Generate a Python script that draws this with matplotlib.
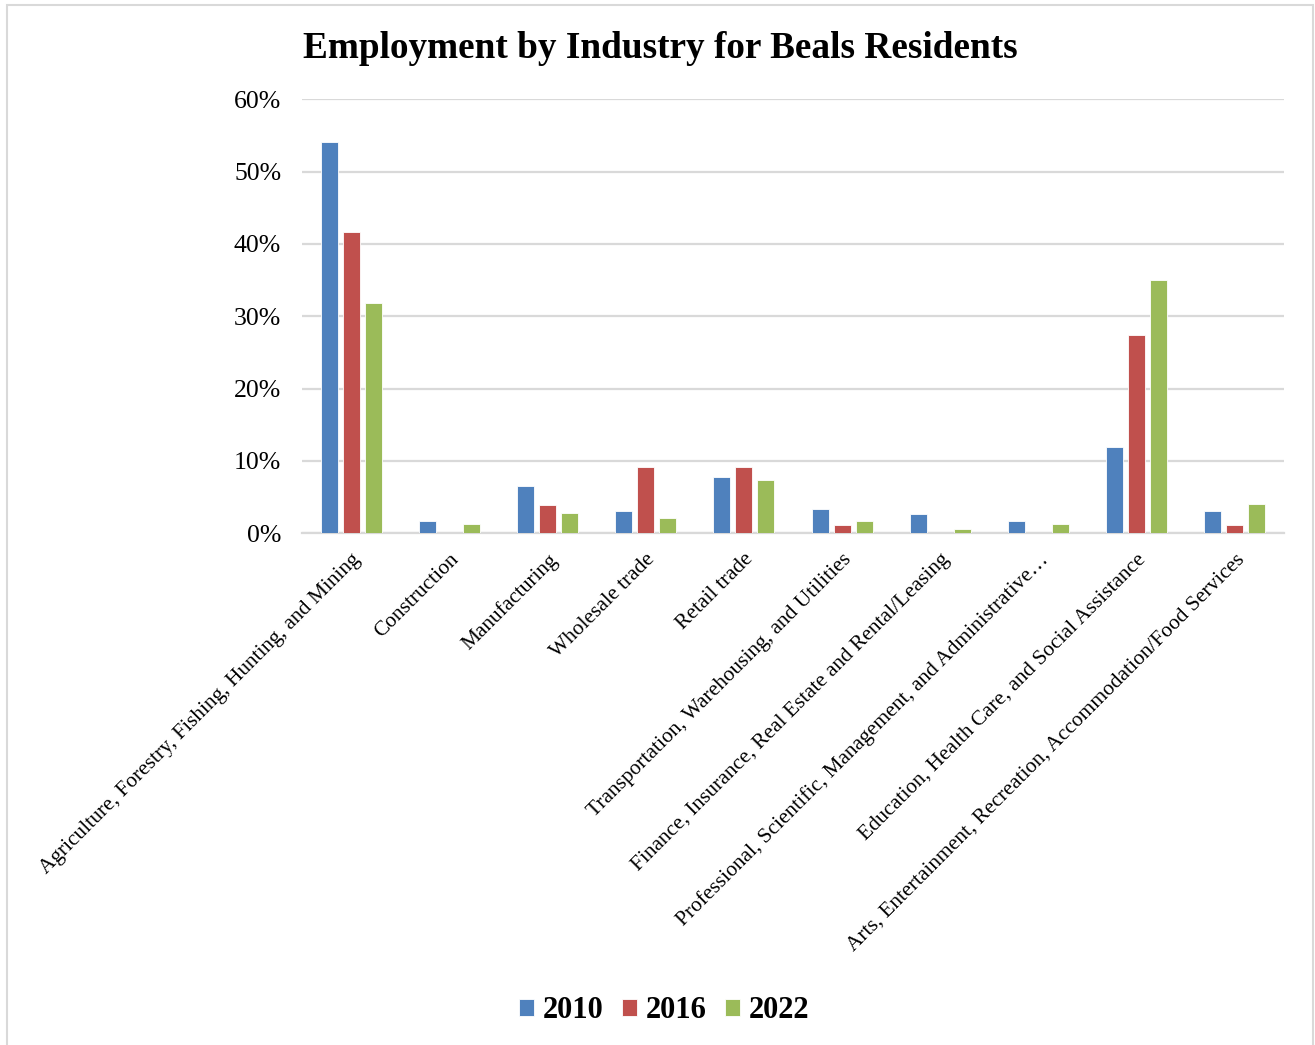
import matplotlib.pyplot as plt
import numpy as np
from matplotlib.patches import Rectangle

# Employment share by industry (percent)
industries = [
    "Agriculture, Forestry, Fishing, Hunting, and Mining",
    "Construction",
    "Manufacturing",
    "Wholesale trade",
    "Retail trade",
    "Transportation, Warehousing, and Utilities",
    "Finance, Insurance, Real Estate and Rental/Leasing",
    "Professional, Scientific, Management, and Administrative\u2026",
    "Education, Health Care, and Social Assistance",
    "Arts, Entertainment, Recreation, Accommodation/Food Services",
]
years = ["2010", "2016", "2022"]
share_2010 = [54.1, 1.7, 6.5, 3.05, 7.85, 3.4, 2.7, 1.7, 12.0, 3.05]
share_2016 = [41.7, 0.0, 3.9, 9.15, 9.15, 1.1, 0.0, 0.0, 27.4, 1.1]
share_2022 = [31.9, 1.3, 2.8, 2.05, 7.3, 1.75, 0.65, 1.3, 35.0, 4.1]
colors = ["#4F81BD", "#C0504D", "#9BBB59"]

serif = "Liberation Serif"
plt.rcParams['font.family'] = [serif, 'DejaVu Serif']

W, H = 1315, 1045
fig = plt.figure(figsize=(W / 100, H / 100), dpi=100)

# plot area in pixels: x 302..1284, y 99..533
ax = fig.add_axes([302 / W, 1 - 533.3 / H, 982 / W, (533.3 - 99.3) / H])

x = np.arange(len(industries))
width = 0.175
step = 0.224
for i, (vals, yr) in enumerate(zip([share_2010, share_2016, share_2022], years)):
    ax.bar(x + (i - 1) * step, vals, width, color=colors[i], label=yr,
           edgecolor="white", linewidth=0.6, zorder=3)

ax.set_xlim(-0.5, len(industries) - 0.5)
ax.set_ylim(0, 60)
ax.set_yticks(range(0, 61, 10))
ax.set_yticklabels([f"{v}%" for v in range(0, 61, 10)], fontsize=18.5)
ax.tick_params(axis="y", length=0, pad=15)
ax.yaxis.grid(True, color="#D9D9D9", linewidth=1.6, zorder=0)
for s in ["top", "right", "left"]:
    ax.spines[s].set_visible(False)
ax.spines["bottom"].set_color("#D9D9D9")
ax.spines["bottom"].set_linewidth(1.6)

ax.set_xticks(x)
ax.set_xticklabels(industries, rotation=45, ha="right", rotation_mode="anchor",
                   fontsize=15.4)
ax.tick_params(axis="x", length=0, pad=12)

fig.text(660 / W, 1 - 49 / H, "Employment by Industry for Beals Residents",
         ha="center", va="center", fontsize=26.8, fontweight="bold")

leg = fig.legend(loc="center", bbox_to_anchor=(664 / W, 1 - 1011 / H), ncol=3,
                 frameon=False, prop={"size": 22, "weight": "bold"},
                 handlelength=0.5, handleheight=0.5, handletextpad=0.26,
                 columnspacing=0.62)

# thin light gray frame around the chart
fig.patches.append(Rectangle((7 / W, -0.01), (1313 - 7) / W, 1 - 5 / H + 0.01,
                             transform=fig.transFigure, fill=False,
                             edgecolor="#D9D9D9", linewidth=1.5))

fig.savefig("out.png", dpi=100)
